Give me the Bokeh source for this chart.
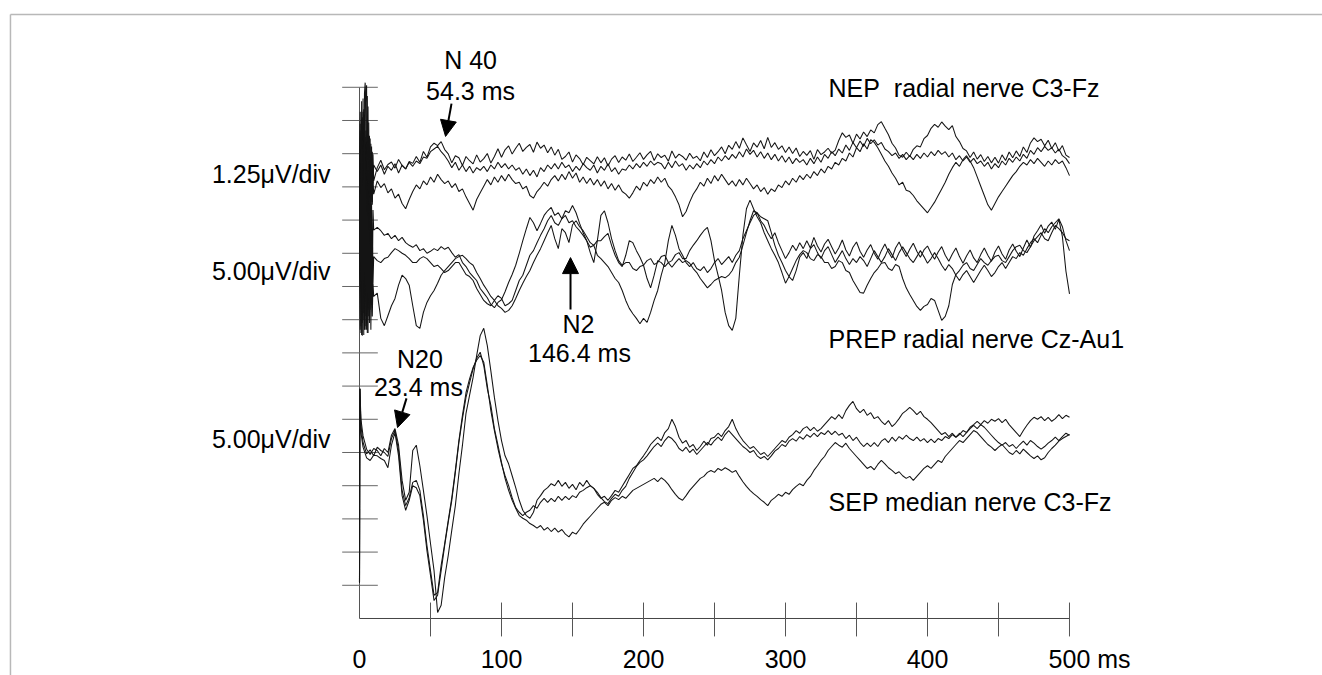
import numpy as np
from bokeh.plotting import figure
from bokeh.models import Range1d, Arrow, NormalHead
from bokeh.core.properties import value
from bokeh.embed import file_html
from bokeh.resources import INLINE

# ---------------- time bases (ms) ----------------
T_MAIN = np.arange(12.5, 500.0 + 1e-9, 2.5)          # 196 samples
T_ART = np.arange(0.0, 10.0 + 1e-9, 0.5)             # stimulus artefact, 21 samples
T_SEP_ART = [0.0, 0.3, 1.0, 2.5, 5.0, 7.5, 10.0]

# ---------------- NEP radial nerve C3-Fz (uV) ----------------
NEP_1_ART = [0.0, 1.5, -3.5, 2.6, -4.0, 2.2, -2.5, 2.9, 3.3, 2.0, -3.0, 2.8, -2.2, 1.8, -3.2, 1.2, -1.8, 0.9, -1.2, 0.6, -0.4]
NEP_2_ART = [0.0, -3.0, 1.4, -4.5, 2.0, -3.6, 2.3, -2.8, 2.2, 3.0, 3.2, -2.6, 2.4, -2.0, 1.3, -1.5, 1.0, -1.1, 0.7, -0.5, 0.2]
NEP_3_ART = [0.0, 2.2, -4.2, 1.8, -3.3, 2.7, -4.6, 2.1, -3.0, 1.5, -3.8, 1.1, -2.5, 0.9, -2.0, 0.5, -1.6, 0.2, -1.3, -0.3, -0.9]

NEP_1 = [
    0.10, 0.38, 0.02, 0.22, 0.31, 0.08, 0.41, 0.18, 0.05, 0.33,
    0.26, 0.52, 0.30, 0.71, 0.49, 0.88, 1.02, 0.93, 1.08, 0.78,
    0.62, 0.28, 0.55, 0.47, 0.18, 0.52, 0.36, 0.24, 0.58, 0.31,
    0.44, 0.63, 0.27, 0.52, 0.81, 0.49, 0.77, 0.92, 0.61, 0.83,
    1.02, 0.71, 0.86, 0.97, 0.68, 1.06, 0.83, 0.95, 0.66, 0.88,
    0.57, 0.79, 0.41, 0.52, 0.69, 0.31, 0.58, 0.44, 0.21, 0.49,
    0.36, 0.24, 0.51, 0.28, 0.47, 0.16, 0.42, 0.55, 0.29, 0.50,
    0.38, 0.61, 0.33, 0.49, 0.66, 0.41, 0.58, 0.71, 0.37, 0.62,
    0.48, 0.57, 0.34, 0.73, 0.46, 0.61, 0.52, 0.38, 0.64, 0.45,
    0.53, 0.36, 0.69, 0.48, 0.77, 0.55, 0.70, 0.88, 0.62, 0.94,
    0.79, 1.08, 0.83, 1.22, 0.96, 0.71, 1.03, 0.87, 1.12, 0.81,
    1.24, 0.86, 1.04, 0.79, 0.92, 0.67, 0.88, 0.63, 0.84, 0.52,
    0.71, 0.56, 0.74, 0.41, 0.78, 0.59, 0.69, 0.83, 0.64, 0.76,
    1.12, 1.41, 1.24, 1.33, 1.02, 1.36, 1.18, 1.44, 1.27, 1.52,
    1.41, 1.72, 1.83, 1.58, 1.34, 1.02, 0.84, 0.57, 0.49, 0.68,
    0.52, 0.79, 0.92, 0.88, 1.19, 1.31, 1.58, 1.73, 1.62, 1.82,
    1.66, 1.53, 1.68, 1.27, 1.08, 0.82, 0.73, 0.48, 0.69, 0.42,
    0.59, 0.33, 0.52, 0.28, 0.49, 0.27, 0.58, 0.37, 0.69, 0.47,
    0.73, 0.52, 0.88, 0.67, 1.03, 1.22, 1.08, 1.17, 0.92, 1.13,
    0.82, 1.04, 0.72, 0.93, 0.57, 0.48,
]
NEP_2 = [
    -0.05, 0.20, -0.15, 0.15, 0.00, 0.25, -0.10, 0.20, 0.05, 0.30,
    0.15, 0.35, 0.25, 0.50, 0.45, 0.70, 0.80, 0.90, 0.70, 0.55,
    0.35, 0.10, 0.30, 0.00, 0.20, -0.05, 0.15, -0.10, 0.10, 0.00,
    0.15, -0.05, 0.20, 0.05, 0.30, 0.10, 0.25, 0.05, 0.20, 0.00,
    0.10, -0.15, 0.05, -0.20, 0.00, -0.25, 0.10, -0.05, 0.20, 0.05,
    0.25, 0.05, 0.30, 0.10, 0.20, -0.05, 0.15, 0.00, 0.25, 0.10,
    0.00, 0.20, -0.10, 0.15, 0.00, 0.25, -0.05, 0.10, -0.15, 0.05,
    0.00, 0.20, 0.05, 0.25, 0.10, 0.30, 0.15, 0.35, 0.20, 0.30,
    0.25, 0.05, 0.30, 0.10, 0.35, 0.15, 0.25, 0.00, 0.20, 0.05,
    0.25, 0.10, 0.35, 0.20, 0.40, 0.25, 0.50, 0.35, 0.55, 0.40,
    0.60, 0.45, 0.70, 0.50, 0.80, 0.60, 0.75, 0.50, 0.70, 0.45,
    0.65, 0.40, 0.60, 0.35, 0.55, 0.30, 0.50, 0.25, 0.45, 0.30,
    0.40, 0.20, 0.45, 0.25, 0.50, 0.30, 0.60, 0.45, 0.70, 0.55,
    0.80, 0.65, 0.95, 0.75, 1.05, 0.85, 1.10, 0.90, 1.20, 1.00,
    1.15, 0.95, 1.05, 0.80, 0.70, 0.55, 0.65, 0.45, 0.60, 0.40,
    0.55, 0.40, 0.60, 0.45, 0.65, 0.50, 0.70, 0.55, 0.75, 0.60,
    0.70, 0.50, 0.65, 0.40, 0.55, 0.35, 0.50, 0.30, 0.45, 0.25,
    0.35, 0.15, 0.30, 0.05, 0.25, 0.10, 0.35, 0.20, 0.45, 0.30,
    0.50, 0.35, 0.60, 0.45, 0.75, 0.60, 0.85, 0.70, 0.90, 0.75,
    0.85, 0.65, 0.80, 0.55, 0.45, 0.25,
]
NEP_3 = [
    -0.40, -0.65, -0.50, -0.85, -0.70, -1.05, -0.90, -1.25, -1.45, -1.10,
    -0.80, -0.55, -0.70, -0.40, -0.55, -0.25, -0.45, -0.15, -0.35, -0.50,
    -0.40, -0.65, -0.50, -0.80, -0.70, -1.00, -1.25, -1.50, -1.10, -0.85,
    -0.60, -0.35, -0.55, -0.25, -0.45, -0.20, -0.40, -0.15, -0.35, -0.50,
    -0.45, -0.70, -0.60, -0.95, -1.05, -0.80, -0.65, -0.45, -0.60, -0.35,
    -0.20, -0.40, -0.15, -0.35, -0.05, -0.30, -0.10, -0.45, -0.25, -0.50,
    -0.30, -0.55, -0.35, -0.60, -0.40, -0.70, -0.50, -0.75, -0.55, -0.80,
    -0.90, -1.05, -0.85, -0.60, -0.75, -0.45, -0.60, -0.35, -0.50, -0.25,
    -0.45, -0.30, -0.60, -0.75, -1.00, -1.30, -1.75, -1.55, -1.20, -0.90,
    -0.70, -0.45, -0.60, -0.30, -0.50, -0.20, -0.40, -0.15, -0.35, -0.55,
    -0.40, -0.60, -0.35, -0.55, -0.30, -0.50, -0.70, -0.55, -0.80, -0.65,
    -0.90, -0.70, -0.80, -0.55, -0.65, -0.40, -0.55, -0.30, -0.45, -0.20,
    -0.35, -0.15, -0.30, -0.05, -0.20, 0.05, -0.10, 0.15, 0.05, 0.30,
    0.20, 0.45, 0.35, 0.65, 0.50, 0.85, 0.70, 1.00, 0.80, 1.15,
    1.05, 0.85, 0.60, 0.35, 0.15, -0.10, -0.30, -0.55, -0.45, -0.75,
    -0.80, -0.95, -1.15, -1.30, -1.45, -1.60, -1.40, -1.20, -0.95, -0.70,
    -0.45, -0.15, 0.10, 0.30, 0.15, 0.40, 0.55, 0.35, 0.10, -0.25,
    -0.60, -0.95, -1.30, -1.50, -1.25, -1.00, -0.80, -0.60, -0.40, -0.20,
    -0.05, 0.15, 0.30, 0.20, 0.40, 0.25, 0.45, 0.30, 0.15, 0.35,
    0.20, 0.40, 0.25, 0.35, 0.10, -0.20,
]

# ---------------- PREP radial nerve Cz-Au1 (uV) ----------------
PREP_1_ART = [0.0, 22.0, -9.5, 18.0, -8.0, 20.5, -9.8, 16.0, -7.0, 19.0, -9.0, 14.0, -6.0, 15.0, -8.0, 12.0, -5.0, 10.0, -4.0, 9.0, 6.0]
PREP_2_ART = [0.0, -9.0, 19.5, -9.8, 21.0, -7.5, 17.5, -9.0, 20.0, -8.5, 15.0, -9.5, 13.0, -7.0, 11.0, -6.0, 9.0, -4.5, 6.0, -2.0, 2.0]
PREP_3_ART = [0.0, 15.0, -8.5, 21.5, -9.9, 18.5, -6.5, 22.0, -9.0, 16.5, -8.0, 12.5, -9.5, 10.0, -7.5, 6.0, -9.0, 3.0, -7.0, -2.0, -4.0]

PREP_1 = [
    6.4, 5.9, 5.2, 5.5, 4.7, 5.2, 4.4, 4.9, 4.1, 3.7,
    3.4, 3.8, 2.9, 3.2, 2.5, 2.8, 3.2, 2.9, 3.5, 3.1,
    3.4, 2.6, 1.9, 2.3, 1.1, 0.5, -0.4, -1.0, -1.6, -2.8,
    -3.5, -4.2, -5.2, -5.7, -4.9, -4.5, -3.3, -1.9, -0.7, 0.7,
    2.5, 4.4, 6.2, 7.9, 7.1, 5.9, 7.0, 8.2, 8.9, 9.4,
    8.2, 8.6, 7.7, 8.9, 8.6, 9.7, 8.6, 7.0, 5.6, 4.4,
    3.4, 3.7, 2.2, 1.7, 1.1, 0.5, -0.4, -1.3, -1.9, -3.1,
    -4.6, -5.8, -6.6, -7.3, -8.1, -7.3, -7.9, -6.4, -4.6, -3.1,
    -0.8, 1.1, 4.4, 6.7, 5.2, 3.2, 2.2, 1.1, 0.5, 1.1,
    0.2, -0.1, 0.5, -0.4, 0.2, 1.1, 1.7, 0.8, 1.4, 2.0,
    1.1, 2.2, 2.9, 4.7, 5.9, 7.1, 8.2, 8.6, 7.4, 6.7,
    5.6, 4.7, 5.6, 4.1, 2.9, 1.7, 2.6, 3.7, 2.9, 4.1,
    3.2, 4.4, 3.3, 4.9, 3.6, 2.7, 3.9, 4.6, 3.5, 2.4,
    3.3, 4.5, 3.0, 2.1, 3.4, 4.2, 2.8, 1.9, 3.0, 3.8,
    2.5, 1.6, 2.9, 3.9, 2.7, 1.8, 3.3, 4.2, 3.0, 2.0,
    3.1, 4.0, 2.8, 1.9, 3.0, 3.6, 2.5, 1.6, 2.7, 3.5,
    2.2, 1.3, 2.4, 3.3, 2.0, 1.0, 2.1, 3.0, 1.8, 1.1,
    2.3, 3.3, 2.2, 1.3, 2.7, 3.6, 2.4, 1.6, 3.0, 3.9,
    2.8, 2.0, 3.3, 4.5, 3.4, 5.1, 5.9, 6.8, 5.5, 6.6,
    7.2, 6.1, 7.6, 5.0, -0.2, -3.6,
]
PREP_2 = [
    1.4, 1.1, 1.7, 1.9, 2.6, 3.2, 2.9, 2.5, 2.2, 1.7,
    1.1, 1.1, 1.7, 2.0, 1.7, 1.1, 0.5, 0.7, 0.2, -0.4,
    -0.1, 0.5, 1.1, 1.1, 0.2, -0.7, -1.0, -1.6, -2.8, -3.7,
    -4.6, -5.1, -5.4, -4.6, -3.9, -4.3, -5.4, -5.1, -4.6, -3.1,
    -1.6, -0.8, 0.7, 2.2, 2.9, 4.1, 5.2, 6.2, 7.4, 8.2,
    7.1, 6.7, 7.7, 8.2, 7.1, 7.4, 6.5, 5.9, 5.2, 4.4,
    2.6, 1.1, 4.4, 8.2, 8.9, 7.1, 4.7, 2.9, 1.4, 0.7,
    1.1, 1.1, 0.2, -0.1, 0.5, 0.7, 1.4, 1.7, 0.8, 1.1,
    2.0, 2.2, 1.1, 1.4, 2.3, 2.6, 1.7, 1.7, 2.9, 3.7,
    4.4, 5.2, 5.9, 6.4, 4.4, 1.4, -0.8, -3.1, -6.4, -8.4,
    -9.1, -7.3, -0.8, 5.2, 9.2, 10.5, 9.2, 8.0, 7.1, 5.6,
    4.4, 3.2, 2.2, 1.1, -0.4, -2.0, -1.0, 0.2, 1.4, 2.3,
    2.9, 2.6, 1.7, 1.4, 2.3, 2.0, 1.1, 1.1, 0.2, 0.5,
    1.4, 1.1, -0.1, -0.4, -1.6, -2.5, -3.4, -3.5, -2.3, -1.3,
    -0.4, 0.2, 1.0, 1.1, 0.2, -0.1, 0.8, 0.5, -1.3, -2.7,
    -3.7, -4.6, -5.5, -6.1, -5.5, -5.2, -4.3, -4.6, -6.1, -7.6,
    -7.0, -5.4, -2.2, -0.7, -0.1, 0.7, 1.1, 0.2, -0.1, 0.8,
    1.7, 1.1, 0.7, 1.4, 2.0, 2.2, 1.4, 1.1, 2.0, 2.9,
    3.5, 3.7, 2.9, 2.6, 3.5, 4.4, 5.0, 5.6, 4.7, 4.4,
    5.6, 6.7, 6.2, 5.6, 4.7, 4.4,
]
PREP_3 = [
    -3.5, -7.3, -8.4, -6.9, -5.4, -4.3, -2.3, -0.8, -1.3, -2.3,
    -5.4, -8.4, -8.8, -6.4, -4.9, -3.9, -3.1, -2.0, -0.8, -0.1,
    0.5, 1.1, 1.7, 2.0, 2.2, 1.7, 1.1, 0.7, -0.4, -1.3,
    -2.3, -3.1, -4.0, -4.6, -5.4, -5.8, -6.4, -6.1, -5.4, -4.3,
    -3.1, -2.0, -1.0, -0.1, 1.1, 2.2, 3.2, 4.4, 5.6, 6.7,
    4.7, 3.2, 6.2, 5.6, 4.1, 6.8, 7.4, 6.5, 5.9, 5.0,
    4.1, 3.7, 4.4, 4.4, 5.0, 5.5, 3.7, 2.2, 1.1, 0.5,
    2.2, 4.4, 4.1, 2.9, 1.9, 0.7, -1.3, -2.7, -0.8, 1.4,
    1.1, 0.5, 1.1, 0.4, 1.1, 1.7, 1.1, 1.4, 1.0, 0.2,
    -0.4, -1.3, -2.0, -2.7, -2.2, -1.6, -1.3, -1.0, -1.2, -0.8,
    -0.1, 1.1, 1.9, 3.7, 5.6, 7.4, 8.9, 8.6, 8.0, 7.7,
    7.4, 5.6, 3.7, 2.2, 1.1, -0.1, -1.0, -1.6, -0.1, 1.9,
    2.6, 1.7, 3.2, 3.8, 2.6, 1.7, 2.9, 3.5, 2.3, 1.1,
    2.0, 2.9, 1.7, 0.8, 1.7, 1.1, 2.0, 1.4, 0.5, 1.7,
    2.9, 2.0, 1.1, 2.0, 3.2, 2.3, 1.4, 2.6, 3.5, 2.6,
    1.7, 1.1, 2.0, 2.9, 2.0, 1.0, 1.7, 2.6, 1.7, 0.7,
    -0.1, 0.8, 0.2, -0.8, -1.6, -0.7, -0.1, -1.0, -1.9, -1.0,
    -0.1, 0.7, -0.1, -1.0, -0.4, 0.5, 1.1, 0.2, 1.1, 2.0,
    1.7, 2.6, 2.2, 3.2, 4.1, 4.7, 4.1, 5.2, 6.2, 5.6,
    6.5, 7.1, 7.7, 6.5, 4.4, 2.9,
]

# ---------------- SEP median nerve C3-Fz (uV) ----------------
SEP_1_ART = [-19.6, 9.6, 5.0, 2.5, 0.5, -0.3, 0.6]
SEP_2_ART = [-19.6, 9.6, 4.0, 1.5, -0.2, 0.4, -0.5]
SEP_3_ART = [-19.6, 9.6, 3.0, 0.8, -0.8, -1.2, -0.4]

SEP_1 = [
    0.3, -0.5, 0.6, 0.0, 2.6, 3.6, 1.1, -4.2, -7.2, -6.0,
    0.3, 1.1, -2.0, -5.7, -9.5, -13.7, -17.8, -24.1, -23.0, -18.8,
    -15.5, -11.7, -8.0, -3.2, 1.1, 5.9, 8.6, 11.3, 14.6, 17.6,
    18.7, 16.1, 12.3, 8.3, 4.8, 1.8, -0.5, -1.7, -3.5, -5.3,
    -7.2, -8.7, -9.5, -9.9, -9.0, -7.2, -6.5, -5.7, -5.3, -4.7,
    -5.0, -4.2, -5.1, -4.5, -5.4, -4.8, -5.6, -4.5, -5.1, -4.2,
    -5.0, -5.4, -6.3, -6.9, -6.6, -7.2, -6.5, -5.7, -6.0, -5.1,
    -4.2, -3.3, -2.4, -2.0, -1.2, -0.5, 0.3, 1.2, 1.8, 2.3,
    1.8, 3.0, 3.6, 5.0, 3.9, 2.3, 1.4, 1.8, 0.8, 1.2,
    0.3, 0.9, 1.7, 1.1, 2.1, 2.3, 2.9, 2.4, 3.3, 3.9,
    5.0, 3.6, 2.6, 1.8, 1.2, 0.6, 0.9, 0.3, -0.3, 0.0,
    -0.6, 0.0, 0.6, 1.2, 1.8, 1.5, 2.3, 2.7, 3.3, 2.9,
    3.6, 3.9, 3.3, 3.8, 3.2, 3.6, 4.2, 4.8, 5.4, 5.0,
    5.7, 5.1, 6.3, 7.1, 7.7, 6.6, 6.0, 6.5, 5.6, 6.0,
    5.1, 5.4, 4.7, 4.2, 4.8, 3.9, 4.4, 5.1, 5.9, 6.3,
    6.8, 6.3, 5.7, 6.2, 5.4, 5.0, 4.5, 3.9, 3.3, 2.7,
    3.0, 2.4, 2.9, 2.3, 2.7, 3.3, 3.0, 3.8, 4.2, 4.7,
    4.2, 4.8, 4.4, 5.0, 4.7, 5.1, 4.5, 5.0, 4.2, 3.6,
    3.0, 2.4, 3.3, 4.1, 4.8, 5.3, 5.0, 5.4, 4.8, 5.3,
    4.7, 5.1, 5.7, 5.1, 5.6, 5.3,
]
SEP_2 = [
    0.8, 0.3, 0.0, -0.6, 2.1, 3.3, 0.3, -5.7, -8.0, -6.8,
    -4.5, -4.2, -5.7, -9.5, -14.0, -17.8, -21.5, -21.1, -17.0, -13.7,
    -10.2, -6.8, -2.7, 1.8, 5.6, 9.0, 11.1, 12.8, 13.9, 14.6,
    13.6, 10.1, 6.3, 3.3, 0.6, -1.7, -3.5, -5.0, -6.8, -8.3,
    -9.0, -9.5, -9.0, -8.7, -8.0, -8.4, -7.5, -6.9, -7.5, -6.9,
    -7.4, -6.6, -7.2, -6.6, -7.1, -6.5, -6.8, -6.0, -5.7, -5.3,
    -5.0, -5.4, -6.0, -6.8, -7.4, -7.7, -6.9, -6.3, -6.6, -5.7,
    -5.1, -3.9, -3.0, -2.1, -1.5, -1.1, -0.5, 0.2, 0.9, 1.4,
    0.9, 1.8, 2.4, 2.1, 1.5, 0.6, 0.2, 0.8, 0.0, 0.5,
    -0.3, 0.3, 0.9, 1.5, 1.1, 1.8, 2.3, 1.8, 2.7, 3.3,
    2.7, 2.1, 1.5, 0.9, 0.5, 0.0, 0.3, -0.5, -0.9, -0.6,
    -1.1, -0.5, 0.2, 0.6, 1.2, 0.9, 1.7, 2.1, 1.7, 2.4,
    2.0, 2.7, 2.3, 2.9, 2.4, 3.0, 2.7, 3.3, 2.7, 3.2,
    2.6, 2.9, 2.1, 2.6, 1.8, 2.3, 1.5, 0.9, 1.4, 0.9,
    1.5, 0.9, 1.7, 2.1, 1.5, 2.3, 1.7, 2.4, 2.0, 2.6,
    2.1, 1.8, 2.3, 1.7, 2.1, 1.5, 2.0, 1.5, 2.1, 1.8,
    2.4, 2.1, 2.7, 2.3, 2.9, 2.4, 3.0, 3.6, 4.1, 3.6,
    4.2, 3.8, 3.2, 2.6, 2.0, 1.5, 1.1, 1.5, 0.9, 1.2,
    0.6, 1.2, 1.7, 1.1, 1.8, 1.4, 0.9, 0.5, 0.9, 1.4,
    1.8, 2.3, 1.8, 2.4, 2.9, 2.6,
]
SEP_3 = [
    -0.5, -0.9, -1.2, -2.3, 1.1, 3.0, -0.5, -6.5, -8.7, -7.2,
    -5.0, -5.3, -6.5, -10.2, -14.8, -18.5, -22.3, -21.5, -17.8, -14.0,
    -10.5, -7.2, -3.0, 1.5, 5.1, 8.3, 10.5, 12.6, 14.2, 15.1,
    13.1, 9.6, 7.1, 3.6, 1.1, -1.5, -3.9, -5.7, -7.2, -8.4,
    -9.5, -9.9, -10.2, -10.7, -11.0, -11.4, -11.0, -11.7, -11.3, -11.9,
    -11.4, -12.0, -11.6, -12.3, -12.7, -12.0, -12.3, -11.6, -10.8, -10.2,
    -9.6, -9.0, -8.4, -7.8, -7.5, -8.0, -7.2, -6.8, -7.1, -6.6,
    -6.9, -6.3, -5.7, -5.4, -5.1, -4.8, -4.5, -4.2, -3.9, -4.4,
    -3.8, -4.2, -4.8, -5.6, -6.3, -6.9, -7.2, -6.5, -5.7, -5.1,
    -4.5, -3.9, -3.6, -3.0, -2.7, -3.0, -2.4, -2.7, -2.3, -2.6,
    -3.0, -2.7, -3.6, -4.4, -5.1, -5.7, -6.2, -6.6, -7.1, -7.5,
    -8.0, -7.2, -6.8, -6.3, -6.6, -6.0, -6.3, -5.6, -5.1, -4.7,
    -5.0, -4.2, -3.6, -2.7, -2.0, -1.2, -0.6, 0.3, 0.9, 1.5,
    1.1, 0.8, 1.4, 0.6, 0.0, -0.6, -1.2, -1.8, -2.4, -2.1,
    -2.6, -1.8, -1.2, -1.7, -2.3, -2.7, -3.2, -2.9, -3.5, -3.9,
    -3.6, -4.2, -3.6, -3.0, -2.4, -2.0, -2.4, -1.8, -1.2, -1.5,
    -0.6, 0.0, 0.6, 1.2, 1.8, 1.5, 2.1, 2.7, 3.3, 3.0,
    2.4, 1.8, 1.2, 0.8, 0.3, 0.8, 1.2, 0.6, 0.0, -0.3,
    0.3, -0.2, 0.5, 0.0, -0.5, -0.9, -0.5, -1.1, -0.8, 0.0,
    0.6, 1.1, 1.7, 2.1, 2.4, 2.7,
]

# ---------------- axis ticks / labels ----------------
X_TICKS = [50, 100, 150, 200, 250, 300, 350, 400, 450, 500]
X_LABEL_VALUES = [0, 100, 200, 300, 400]
X_LAST_LABEL = "500 ms"
Y_TICKS = list(range(1, 17))   # divisions

SCALE_LABELS = ["1.25\u03bcV/div", "5.00\u03bcV/div", "5.00\u03bcV/div"]
TRACE_NAMES = ["NEP\u00a0 radial nerve C3-Fz", "PREP radial nerve Cz-Au1", "SEP median nerve C3-Fz"]
PEAK_TEXTS = ["N 40", "54.3 ms", "N20", "23.4 ms", "N2", "146.4 ms"]

# group: (uV per division, baseline in divisions, artefact times, traces)
GROUPS = [
    (1.25, 13.5, T_ART, [(NEP_1_ART, NEP_1), (NEP_2_ART, NEP_2), (NEP_3_ART, NEP_3)]),
    (5.00, 10.5, T_ART, [(PREP_1_ART, PREP_1), (PREP_2_ART, PREP_2), (PREP_3_ART, PREP_3)]),
    (5.00, 5.0, T_SEP_ART, [(SEP_1_ART, SEP_1), (SEP_2_ART, SEP_2), (SEP_3_ART, SEP_3)]),
]

for gi, (_, _, ta, trs) in enumerate(GROUPS):
    for ti, (a, m) in enumerate(trs):
        if len(m) != len(T_MAIN) or len(a) != len(ta):
            raise ValueError(f"group {gi} trace {ti}: {len(a)}/{len(ta)} {len(m)}/{len(T_MAIN)}")

FONT = value("Liberation Sans")
FSIZE = value("25px")
TXT_RAISE = 0.29   # divisions: compensates the renderer's baseline placement

p = figure(width=1322, height=675,
           x_range=Range1d(-252.82, 678.17), y_range=Range1d(-1.717, 18.614),
           output_backend="svg", toolbar_location=None,
           x_axis_type=None, y_axis_type=None, min_border=0)
p.outline_line_color = None
p.background_fill_color = "white"
p.border_fill_color = "white"

# outer gray frame of the figure panel
p.segment(x0=[-245.8], y0=[18.19], x1=[700], y1=[18.19], line_color="#b8b8b8", line_width=1.5)
p.segment(x0=[-245.8], y0=[18.19], x1=[-245.8], y1=[-3], line_color="#b8b8b8", line_width=1.5)

# axes
p.segment(x0=[0], y0=[0], x1=[500], y1=[0], line_color="#444444", line_width=1)
p.segment(x0=X_TICKS, y0=[0.48] * len(X_TICKS), x1=X_TICKS, y1=[-0.54] * len(X_TICKS),
          line_color="#555555", line_width=1)
p.segment(x0=[0], y0=[0], x1=[0], y1=[16], line_color="#555555", line_width=1)
p.segment(x0=[-12.2] * len(Y_TICKS), y0=Y_TICKS, x1=[12.9] * len(Y_TICKS), y1=Y_TICKS,
          line_color="#666666", line_width=1)

# traces
for scale, base, t_art, traces in GROUPS:
    for art, main in traces:
        t = np.concatenate([np.asarray(t_art, float), T_MAIN])
        v = np.concatenate([np.asarray(art, float), np.asarray(main, float)])
        p.line(t, base + v / scale, line_color="#141414", line_width=1.05)


def label(xs, ys, texts, align, x_offset=0):
    p.text(x=xs, y=[y + TXT_RAISE for y in ys], text=texts, x_offset=x_offset,
           text_align=align, text_baseline="alphabetic", text_font=FONT,
           text_font_size=FSIZE, text_color="black")


# x tick labels
label(X_LABEL_VALUES, [-1.52] * len(X_LABEL_VALUES), [str(v) for v in X_LABEL_VALUES], "center")
label([500], [-1.52], [X_LAST_LABEL], "left", x_offset=-20.9)

# scale labels
label([-20.4] * 3, [13.10, 10.18, 5.12], SCALE_LABELS, "right")

# trace names
label([330.3, 330.3, 330.3], [15.69, 8.13, 3.22], TRACE_NAMES, "left")

# peak annotations
label([78.2, 78.2, 42.6, 41.5, 154.2, 154.9], [16.54, 15.60, 7.53, 6.69, 8.58, 7.71], PEAK_TEXTS, "center")

for xs, ys, xe, ye in [(64.8, 15.51, 60.6, 14.52), (33.1, 6.63, 26.8, 5.75), (148.6, 9.31, 148.6, 10.87)]:
    p.add_layout(Arrow(end=NormalHead(size=16, fill_color="black", line_color="black", line_width=1),
                       x_start=xs, y_start=ys, x_end=xe, y_end=ye,
                       line_color="black", line_width=2))

with open("out.html", "w", encoding="utf-8") as f:
    f.write(file_html(p, INLINE, "Evoked potentials"))
